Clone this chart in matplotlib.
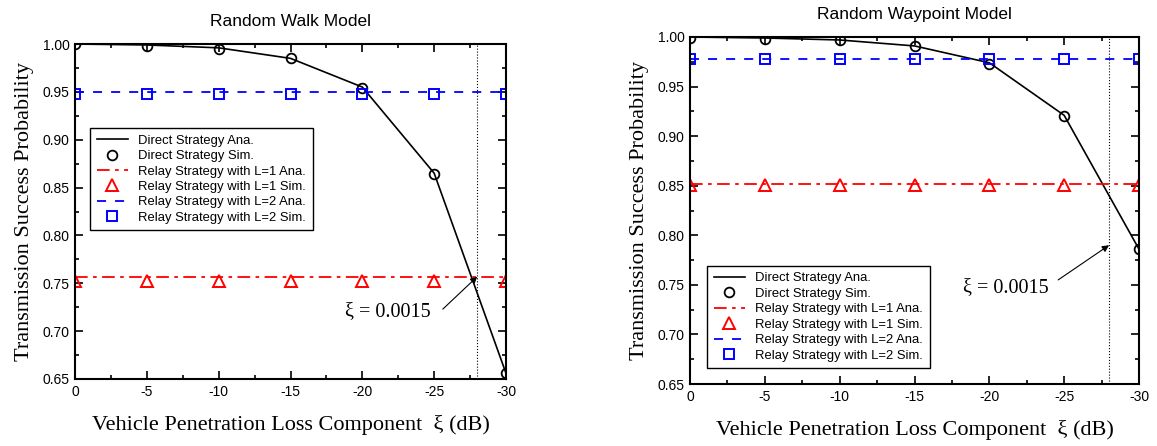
import matplotlib
matplotlib.use("Agg")
from matplotlib import pyplot as plt
from matplotlib.ticker import MultipleLocator, FormatStrFormatter

# penetration loss values (dB)
xi = [0, -5, -10, -15, -20, -25, -30]

# random walk model
walk_direct_ana = [1.000, 0.999, 0.996, 0.985, 0.955, 0.865, 0.656]
walk_direct_sim = [1.000, 0.998, 0.995, 0.985, 0.954, 0.864, 0.656]
walk_l1_ana = [0.757] * 7
walk_l1_sim = [0.752] * 7
walk_l2_ana = [0.950] * 7
walk_l2_sim = [0.948] * 7

# random waypoint model
wp_direct_ana = [1.000, 0.999, 0.997, 0.991, 0.974, 0.921, 0.786]
wp_direct_sim = [0.999, 0.998, 0.997, 0.991, 0.973, 0.920, 0.786]
wp_l1_ana = [0.852] * 7
wp_l1_sim = [0.851] * 7
wp_l2_ana = [0.978] * 7
wp_l2_sim = [0.978] * 7

labels = ["Direct Strategy Ana.", "Direct Strategy Sim.",
          "Relay Strategy with L=1 Ana.", "Relay Strategy with L=1 Sim.",
          "Relay Strategy with L=2 Ana.", "Relay Strategy with L=2 Sim."]

cross_xi = -28
note = "ξ = 0.0015"
# note text position, arrow tail and head for each panel
walk_note = (-21.75, 0.72)
walk_arrow = ((-25.6, 0.723), (cross_xi, 0.757))
wp_note = (-21.1, 0.747)
wp_arrow = ((-24.6, 0.755), (cross_xi, 0.79))

sans = "Liberation Sans"
serif = "Liberation Serif"
plt.rcParams["font.family"] = sans
plt.rcParams["axes.unicode_minus"] = False


def draw(ax, title, d_ana, d_sim, l1_ana, l1_sim, l2_ana, l2_sim):
    ax.plot(xi, d_ana, color="black", lw=1.2, label=labels[0])
    ax.plot(xi, d_sim, ls="none", marker="o", ms=7, mfc="none", mec="black", mew=1.3, label=labels[1])
    ax.plot(xi, l1_ana, color="red", lw=1.3, dashes=(7, 3, 2, 3), label=labels[2])
    ax.plot(xi, l1_sim, ls="none", marker="^", ms=8, mfc="none", mec="red", mew=1.4, label=labels[3])
    ax.plot(xi, l2_ana, color="blue", lw=1.3, dashes=(5, 5), label=labels[4])
    ax.plot(xi, l2_sim, ls="none", marker="s", ms=6.5, mfc="none", mec="blue", mew=1.4, label=labels[5])
    ax.axvline(cross_xi, color="black", lw=0.8, ls=":")

    ax.set_xlim(0, -30)
    ax.set_ylim(0.65, 1.0)
    ax.xaxis.set_major_locator(MultipleLocator(5))
    ax.xaxis.set_minor_locator(MultipleLocator(2.5))
    ax.yaxis.set_major_locator(MultipleLocator(0.05))
    ax.yaxis.set_minor_locator(MultipleLocator(0.025))
    ax.yaxis.set_major_formatter(FormatStrFormatter("%.2f"))
    ax.tick_params(which="both", direction="in", top=True, right=True, labelsize=10, width=1.2)
    ax.tick_params(which="major", length=6, pad=4)
    ax.tick_params(which="minor", length=3)
    for s in ax.spines.values():
        s.set_linewidth(1.5)

    ax.set_title(title, fontsize=12.5, pad=13)
    ax.set_xlabel("Vehicle Penetration Loss Component  ξ (dB)", family=serif, fontsize=16, labelpad=12)
    ax.set_ylabel("Transmission Success Probability", family=serif, fontsize=16, labelpad=6)


def add_note(ax, pos, arrow_pts):
    ax.text(pos[0], pos[1], note, ha="center", va="center", fontsize=14.5, family=serif)
    ax.annotate("", xy=arrow_pts[1], xytext=arrow_pts[0],
                arrowprops=dict(arrowstyle="-|>", color="black", lw=0.8,
                                shrinkA=0, shrinkB=0, mutation_scale=10))


fig = plt.figure(figsize=(11.57, 4.46), dpi=100)
leg_kw = dict(borderaxespad=0, fontsize=9.4, fancybox=False, edgecolor="black",
              framealpha=1, handlelength=2.4, labelspacing=0.25, borderpad=0.5)

ax1 = fig.add_axes([75 / 1157, 1 - 379 / 446, 431 / 1157, 335 / 446])
draw(ax1, "Random Walk Model", walk_direct_ana, walk_direct_sim,
     walk_l1_ana, walk_l1_sim, walk_l2_ana, walk_l2_sim)
ax1.legend(loc="upper left", bbox_to_anchor=(0.035, 0.749), **leg_kw)
add_note(ax1, walk_note, walk_arrow)

ax2 = fig.add_axes([690 / 1157, 1 - 384 / 446, 449 / 1157, 347 / 446])
draw(ax2, "Random Waypoint Model", wp_direct_ana, wp_direct_sim,
     wp_l1_ana, wp_l1_sim, wp_l2_ana, wp_l2_sim)
ax2.legend(loc="lower left", bbox_to_anchor=(0.038, 0.046), **leg_kw)
add_note(ax2, wp_note, wp_arrow)

fig.savefig("out.png", dpi=100)
